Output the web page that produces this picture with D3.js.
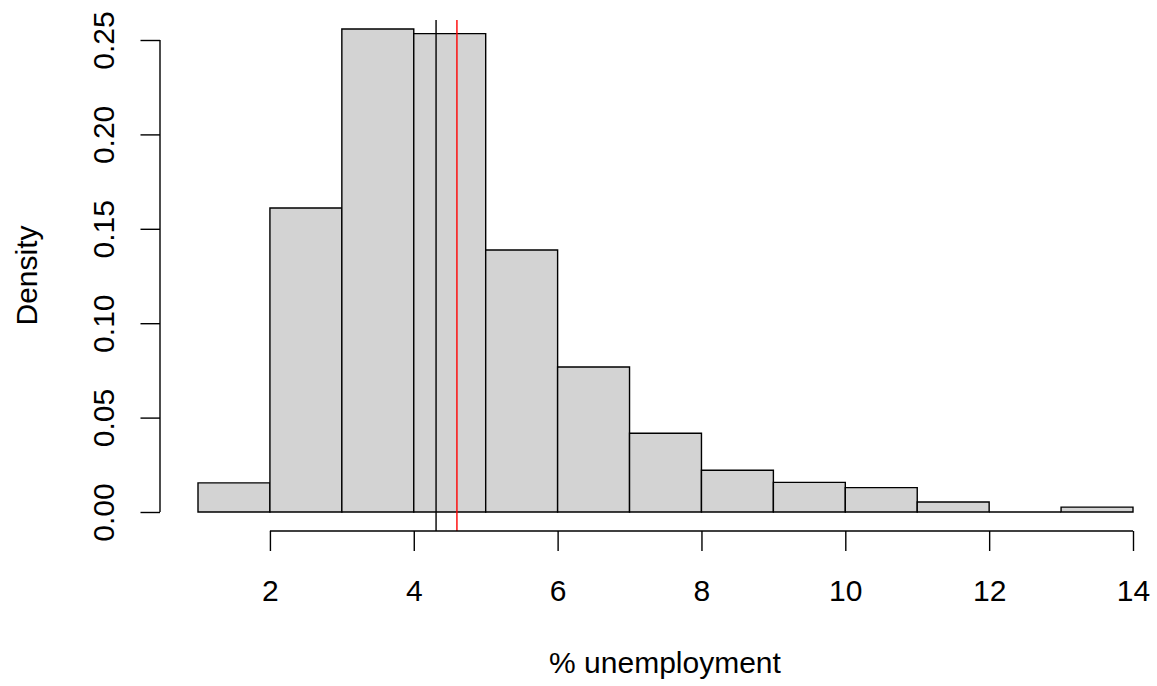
<!DOCTYPE html>
<html>
<head>
<meta charset="utf-8">
<script src="https://cdn.jsdelivr.net/npm/d3@7"></script>
<style>
  html, body { margin: 0; padding: 0; background: #fff; }
  svg { display: block; }
  text { font-family: "Liberation Sans", Arial, Helvetica, sans-serif; fill: #000; }
</style>
</head>
<body>
<svg id="chart" width="1157" height="686"></svg>
<script>
// Histogram bins (unit width) and their densities
const binStarts = [1, 2, 3, 4, 5, 6, 7, 8, 9, 10, 11, 12, 13];
const binEnds   = [2, 3, 4, 5, 6, 7, 8, 9, 10, 11, 12, 13, 14];
const densities = [0.0154, 0.1610, 0.2558, 0.2534, 0.1388, 0.0768, 0.0417,
                   0.0221, 0.0157, 0.0129, 0.0053, 0.0000, 0.0026];

// Reference lines: median (black) and mean (red)
const refValues = [4.31, 4.60];
const refColors = ["#000000", "#FF0000"];

// Axis ticks
const xTicks = [2, 4, 6, 8, 10, 12, 14];
const yTicks = [0, 0.05, 0.10, 0.15, 0.20, 0.25];

const xLabel = "% unemployment";
const yLabel = "Density";

// Layout
const plot = { left: 160, right: 1170, top: 20, bottom: 531 };
const fontSize = 30;
const lw = 1.4;

const svg = d3.select("#chart");

const x = d3.scaleLinear().domain([1, 14]).range([198, 1133]);
const y = d3.scaleLinear().domain([0, 0.25]).range([512, 40]);

const bins = binStarts.map((s, i) => ({ x0: s, x1: binEnds[i], d: densities[i] }));

// Bars drawn as closed paths so that empty bins still show their outline
svg.append("g").selectAll("path")
  .data(bins)
  .join("path")
  .attr("d", d => {
    const p = d3.path();
    p.rect(x(d.x0), y(d.d), x(d.x1) - x(d.x0), y(0) - y(d.d));
    return p.toString();
  })
  .attr("fill", "#D3D3D3")
  .attr("stroke", "#000")
  .attr("stroke-width", lw);

// Vertical reference lines spanning the plot region
svg.append("g").selectAll("line")
  .data(refValues)
  .join("line")
  .attr("x1", d => x(d)).attr("x2", d => x(d))
  .attr("y1", plot.top).attr("y2", plot.bottom)
  .attr("stroke", (d, i) => refColors[i])
  .attr("stroke-width", lw);

// X axis
const xAxis = svg.append("g")
  .attr("transform", `translate(0,${plot.bottom})`)
  .call(d3.axisBottom(x).tickValues(xTicks).tickSize(20).tickSizeOuter(0));
xAxis.select(".domain").remove();
xAxis.append("line")
  .attr("x1", x(xTicks[0])).attr("x2", x(xTicks[xTicks.length - 1]))
  .attr("stroke", "#000").attr("stroke-width", lw);
xAxis.selectAll(".tick line").attr("stroke", "#000").attr("stroke-width", lw);
xAxis.selectAll(".tick text")
  .attr("font-size", fontSize)
  .attr("font-family", "Liberation Sans, Arial, sans-serif")
  .attr("fill", "#000")
  .attr("dy", null)
  .attr("y", 70);

// Y axis
const yAxis = svg.append("g")
  .attr("transform", `translate(${plot.left},0)`)
  .call(d3.axisLeft(y).tickValues(yTicks).tickFormat(d3.format(".2f")).tickSize(19.5).tickSizeOuter(0));
yAxis.select(".domain").remove();
yAxis.append("line")
  .attr("y1", y(yTicks[0])).attr("y2", y(yTicks[yTicks.length - 1]))
  .attr("stroke", "#000").attr("stroke-width", lw);
yAxis.selectAll(".tick line").attr("stroke", "#000").attr("stroke-width", lw);
yAxis.selectAll(".tick text")
  .attr("font-size", fontSize)
  .attr("font-family", "Liberation Sans, Arial, sans-serif")
  .attr("fill", "#000")
  .attr("x", null).attr("dy", null)
  .attr("text-anchor", "middle")
  .attr("transform", "translate(-46,0) rotate(-90)");

// Axis titles
svg.append("text")
  .attr("x", (plot.left + plot.right) / 2)
  .attr("y", 673)
  .attr("text-anchor", "middle")
  .attr("font-size", fontSize)
  .text(xLabel);

svg.append("text")
  .attr("transform", `translate(37,${(plot.top + plot.bottom) / 2}) rotate(-90)`)
  .attr("text-anchor", "middle")
  .attr("font-size", fontSize)
  .text(yLabel);
</script>
</body>
</html>
